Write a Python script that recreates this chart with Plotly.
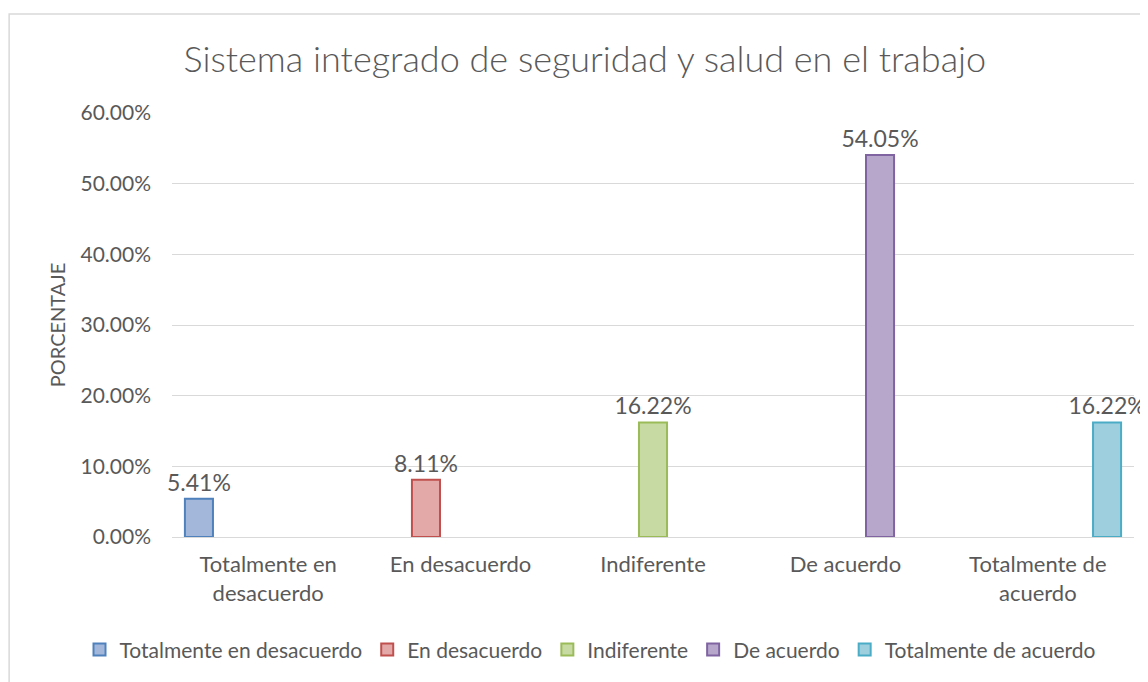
import plotly.graph_objects as go

categories = ["Totalmente en<br>desacuerdo", "En desacuerdo", "Indiferente", "De acuerdo", "Totalmente de<br>acuerdo"]
series_names = ["Totalmente en desacuerdo", "En desacuerdo", "Indiferente", "De acuerdo", "Totalmente de acuerdo"]
percentages = [0.0541, 0.0811, 0.1622, 0.5405, 0.1622]
y_ticks = [0.0, 0.1, 0.2, 0.3, 0.4, 0.5, 0.6]

fills = ["#A2B7DA", "#E3A9A8", "#C7DAA3", "#B6A7CB", "#9ECFDF"]
lines = ["#4F81BD", "#C0504D", "#9BBB59", "#8064A2", "#4BACC6"]

FONT = "Lato, 'Noto Sans', sans-serif"
GREY = "#595959"
W, H = 1140, 674  # page body has an 8px margin

fig = go.Figure()

# one series per answer; each only has a value in its own category (Excel style)
for i, name in enumerate(series_names):
    vals = [percentages[i] if j == i else None for j in range(len(categories))]
    fig.add_trace(go.Bar(
        x=categories,
        y=vals,
        name=name,
        marker=dict(color=fills[i], line=dict(color=lines[i], width=2)),
        texttemplate="%{y:.2%}",
        textposition="outside",
        constraintext="none",
        textfont=dict(color=GREY, size=23, family=FONT),
        cliponaxis=False,
    ))

# horizontal margins are zero so the legend can use the full width; plot area set by domain
fig.update_layout(
    width=W,
    height=H,
    barmode="group",
    bargap=0.10,
    bargroupgap=0.19,
    paper_bgcolor="white",
    plot_bgcolor="white",
    font=dict(family=FONT, color=GREY),
    margin=dict(l=0, r=0, t=105, b=145, autoexpand=False),
    title=dict(
        text="Sistema integrado de seguridad y salud en el trabajo",
        font=dict(size=36, color=GREY, family=FONT, weight=300),
        x=0.506, xref="container", xanchor="center",
        y=0.923, yref="container", yanchor="middle",
    ),
    xaxis=dict(
        domain=[164 / W, 1126 / W],
        showgrid=False,
        showline=False,
        tickfont=dict(size=22, color=GREY),
        ticks="",
        ticklabelstandoff=12,
    ),
    yaxis=dict(
        range=[0, 0.6],
        tickvals=y_ticks,
        tickformat=".2%",
        showgrid=True,
        gridcolor="#D9D9D9",
        gridwidth=1,
        zeroline=True,
        zerolinecolor="#D9D9D9",
        zerolinewidth=1,
        showline=False,
        tickfont=dict(size=21, color=GREY),
        ticklabelstandoff=20,
        title=dict(text="PORCENTAJE", font=dict(size=20, color=GREY), standoff=9),
    ),
    legend=dict(
        orientation="h",
        x=582 / W, xanchor="center",
        y=-0.266, yanchor="middle",
        font=dict(size=21, color=GREY),
        itemwidth=30,
        traceorder="normal",
    ),
    shapes=[dict(
        type="rect", xref="paper", yref="paper",
        x0=0.001, x1=1.02, y0=-0.45, y1=1.2335,
        line=dict(color="#D9D9D9", width=1.5),
        fillcolor="rgba(0,0,0,0)",
        layer="below",
    )],
)

fig.write_html("out.html")
